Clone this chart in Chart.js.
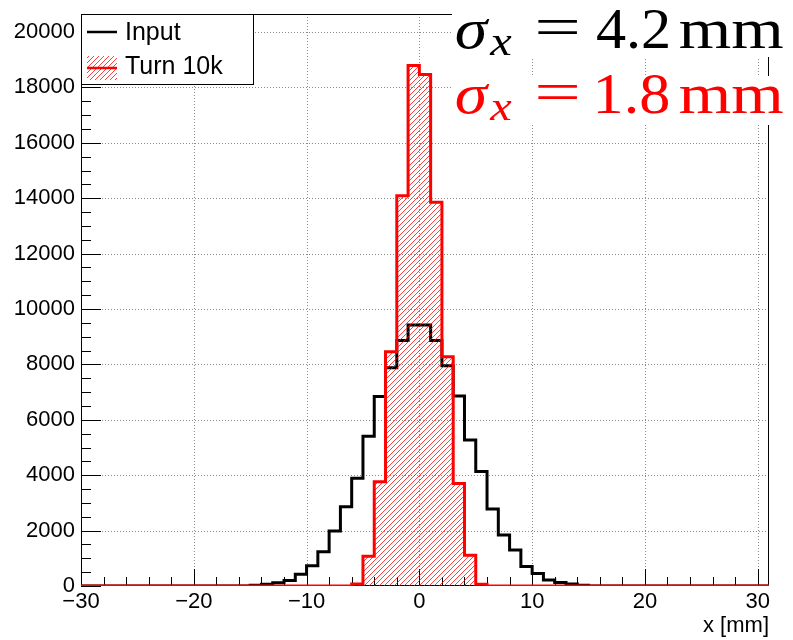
<!DOCTYPE html>
<html>
<head>
<meta charset="utf-8">
<script src="https://cdn.jsdelivr.net/npm/chart.js@4.4.0/dist/chart.umd.min.js"></script>
<style>
  body { margin: 0; background: #fff; }
  canvas { display: block; }
</style>
</head>
<body>
<canvas id="MyChart" width="793" height="640"></canvas>
<script>
// bin lower edges (1 mm bins), last bin ends at 31
let binLow = [-30, -29, -28, -27, -26, -25, -24, -23, -22, -21, -20, -19, -18, -17, -16,
  -15, -14, -13, -12, -11, -10, -9, -8, -7, -6, -5, -4, -3, -2, -1,
  0, 1, 2, 3, 4, 5, 6, 7, 8, 9, 10, 11, 12, 13, 14,
  15, 16, 17, 18, 19, 20, 21, 22, 23, 24, 25, 26, 27, 28, 29, 30];
let binEnd = 31;

// counts per bin
let inputCounts = [0, 0, 0, 0, 0, 0, 0, 0, 0, 0, 0, 0, 0, 0, 0,
  30, 60, 120, 200, 420, 730, 1240, 1990, 2860, 3890, 5410, 6840, 7880, 8860, 9420,
  9420, 8860, 7950, 6860, 5270, 4130, 2780, 1840, 1300, 700, 450, 220, 130, 70, 30,
  0, 0, 0, 0, 0, 0, 0, 0, 0, 0, 0, 0, 0, 0, 0, 0];
let turnCounts = [0, 0, 0, 0, 0, 0, 0, 0, 0, 0, 0, 0, 0, 0, 0,
  0, 0, 0, 0, 0, 0, 0, 0, 0, 70, 1070, 3760, 8460, 14090, 18790,
  18470, 13850, 8280, 3700, 1110, 60, 0, 0, 0, 0, 0, 0, 0, 0, 0,
  0, 0, 0, 0, 0, 0, 0, 0, 0, 0, 0, 0, 0, 0, 0, 0];

let xTicks = [-30, -20, -10, 0, 10, 20, 30];
let yTicks = [0, 2000, 4000, 6000, 8000, 10000, 12000, 14000, 16000, 18000, 20000];
let yMax = 20650;

let sigmaInput = '4.2';
let sigmaTurn = '1.8';

function steps(counts) {
  var pts = binLow.map(function (x, i) { return { x: x, y: counts[i] }; });
  pts.push({ x: binEnd, y: 0 });
  return pts;
}

var ctx = document.getElementById('MyChart').getContext('2d');

// ROOT-like "/" hatch
var tile = document.createElement('canvas');
tile.width = 5; tile.height = 5;
var t = tile.getContext('2d');
t.strokeStyle = 'rgba(255,0,0,0.75)';
t.lineWidth = 1;
t.beginPath();
t.moveTo(0, 5); t.lineTo(5, 0);
t.moveTo(-1, 1); t.lineTo(1, -1);
t.moveTo(4, 6); t.lineTo(6, 4);
t.stroke();
var hatch = ctx.createPattern(tile, 'repeat');

var frame = {
  id: 'frame',
  beforeDatasetsDraw: function (chart) {
    var c = chart.ctx, a = chart.chartArea, xs = chart.scales.x, ys = chart.scales.y;
    c.save();
    // dotted grid
    c.strokeStyle = '#8a8a8a';
    c.lineWidth = 1;
    c.setLineDash([1, 2]);
    c.beginPath();
    xTicks.forEach(function (v) {
      var px = Math.round(xs.getPixelForValue(v)) + 0.5;
      if (px <= a.left + 1) return;
      c.moveTo(px, a.top); c.lineTo(px, a.bottom);
    });
    yTicks.forEach(function (v) {
      var py = Math.round(ys.getPixelForValue(v)) + 0.5;
      if (py >= a.bottom - 1) return;
      c.moveTo(a.left, py); c.lineTo(a.right, py);
    });
    c.stroke();
    c.setLineDash([]);
    // frame
    c.strokeStyle = '#000';
    c.strokeRect(a.left + 0.5, a.top + 0.5, a.right - a.left - 1, a.bottom - a.top - 1);
    // inward ticks
    c.beginPath();
    for (var v = -30; v <= 31; v += 2) {
      var px = Math.round(xs.getPixelForValue(v)) + 0.5;
      var len = (v % 10 === 0) ? 17 : 9;
      c.moveTo(px, a.bottom); c.lineTo(px, a.bottom - len);
    }
    for (var w = 0; w <= yMax; w += 500) {
      var py = Math.round(ys.getPixelForValue(w)) + 0.5;
      var l2 = (w % 2000 === 0) ? 20 : 10;
      c.moveTo(a.left, py); c.lineTo(a.left + l2, py);
    }
    c.stroke();
    c.restore();
  },
  afterDraw: function (chart) {
    var c = chart.ctx, a = chart.chartArea;
    c.save();
    // axis title
    c.fillStyle = '#000';
    c.font = '22px "Liberation Sans", Arial, sans-serif';
    c.textAlign = 'right';
    c.textBaseline = 'alphabetic';
    c.fillText('x [mm]', a.right, 632);

    // legend
    c.fillStyle = '#fff';
    c.fillRect(81, 14, 173, 71);
    c.strokeStyle = '#000';
    c.lineWidth = 1;
    c.strokeRect(81.5, 14.5, 172, 70);
    c.lineWidth = 2.5;
    c.beginPath(); c.moveTo(87, 32); c.lineTo(117, 32); c.stroke();
    c.fillStyle = hatch;
    c.fillRect(87, 56, 30, 24);
    c.strokeStyle = '#f00';
    c.beginPath(); c.moveTo(87, 68); c.lineTo(117, 68); c.stroke();
    c.fillStyle = '#000';
    c.textAlign = 'left';
    c.font = '25px "Liberation Sans", Arial, sans-serif';
    c.fillText('Input', 125, 40);
    c.fillText('Turn 10k', 125, 74);

    // sigma labels
    c.fillStyle = '#fff';
    c.fillRect(452, 0, 341, 57);
    c.fillRect(452, 76, 341, 49);
    sigmaLine(c, sigmaInput, '#000', 48);
    sigmaLine(c, sigmaTurn, '#f00', 113);
    c.restore();
  }
};

// draw text so its ink spans [left, right]
function fitText(c, txt, font, left, right, base) {
  c.font = font;
  var m = c.measureText(txt);
  var ink = m.actualBoundingBoxLeft + m.actualBoundingBoxRight;
  var s = (right - left) / ink;
  c.save();
  c.translate(left, base);
  c.scale(s, 1);
  c.fillText(txt, m.actualBoundingBoxLeft, 0);
  c.restore();
}

function sigmaLine(c, val, color, base) {
  var serif = '"Liberation Serif", "DejaVu Serif", serif';
  c.fillStyle = color;
  c.textAlign = 'left';
  fitText(c, '\u03c3', 'italic 58px ' + serif, 456, 490, base);
  fitText(c, 'x', 'italic 40px ' + serif, 489, 512, base + 7);
  fitText(c, '=', '58px ' + serif, 537, 577, base - 2);
  fitText(c, val, '56px ' + serif, 597, 668, base);
  fitText(c, 'mm', '56px ' + serif, 680, 783, base);
}

var chartObject = {};
chartObject.chart = new Chart(ctx, {
  type: 'line',
  data: {
    datasets: [{
      label: 'Input',
      data: steps(inputCounts),
      borderColor: '#000',
      borderWidth: 3,
      stepped: 'before',
      pointRadius: 0,
      fill: false,
      borderJoinStyle: 'miter',
      order: 2,
    }, {
      label: 'Turn 10k',
      data: steps(turnCounts),
      borderColor: '#f00',
      backgroundColor: hatch,
      borderWidth: 3,
      stepped: 'before',
      pointRadius: 0,
      fill: 'origin',
      borderJoinStyle: 'miter',
      order: 1,
    }]
  },
  options: {
    responsive: false,
    animation: false,
    devicePixelRatio: 1,
    layout: { padding: { left: 0, right: 24, top: 14, bottom: 0 } },
    plugins: { legend: { display: false }, tooltip: { enabled: false } },
    scales: {
      x: {
        type: 'linear',
        min: -30,
        max: binEnd,
        bounds: 'data',
        afterBuildTicks: function (s) { s.ticks = xTicks.map(function (v) { return { value: v }; }); },
        afterFit: function (s) { s.height = 54; s.paddingLeft = 0; s.paddingRight = 0; },
        grid: { display: false, drawTicks: false },
        border: { display: false },
        ticks: {
          padding: 3,
          maxRotation: 0,
          autoSkip: false,
          color: '#000',
          font: { family: 'Liberation Sans', size: 22 },
          callback: function (v) { return v < 0 ? '\u2212' + Math.abs(v) : String(v); }
        }
      },
      y: {
        min: 0,
        max: yMax,
        bounds: 'data',
        afterBuildTicks: function (s) { s.ticks = yTicks.map(function (v) { return { value: v }; }); },
        afterFit: function (s) { s.width = 81; s.paddingTop = 0; s.paddingBottom = 0; },
        grid: { display: false, drawTicks: false },
        border: { display: false },
        ticks: {
          padding: 6,
          autoSkip: false,
          color: '#000',
          font: { family: 'Liberation Sans', size: 22 },
          callback: function (v) { return String(v); }
        }
      }
    }
  },
  plugins: [frame]
});
</script>
</body>
</html>
